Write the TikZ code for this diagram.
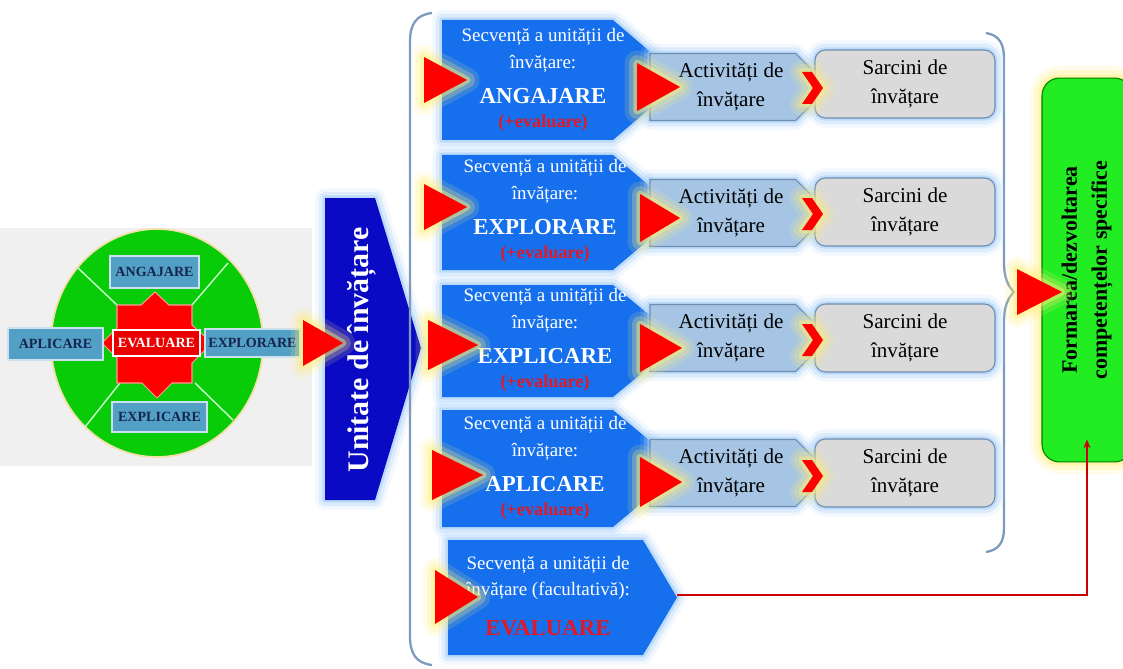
\documentclass[tikz,border=0pt]{standalone}
\usepackage{fontspec}
\setmainfont{Liberation Serif}
\usepackage{xcolor}
\usetikzlibrary{calc,shapes,shapes.misc,arrows.meta}
\definecolor{seqblue}{RGB}{22,112,238}
\definecolor{unitblue}{RGB}{10,10,196}
\definecolor{actblue}{RGB}{166,197,228}
\definecolor{actline}{RGB}{112,140,172}
\definecolor{taskgray}{RGB}{218,218,218}
\definecolor{goalgreen}{RGB}{34,236,34}
\definecolor{wheelgreen}{RGB}{8,204,8}
\definecolor{phaseblue}{RGB}{82,160,198}
\definecolor{navytext}{RGB}{22,36,78}
\definecolor{bracecol}{RGB}{124,154,190}
\definecolor{evalred}{RGB}{226,24,36}
\definecolor{glowyellow}{RGB}{255,238,120}
\definecolor{glowblue}{RGB}{168,208,250}
\tikzstyle{glowY}=[preaction={draw=glowyellow,line width=14pt,draw opacity=.15,line join=round},preaction={draw=glowyellow,line width=9pt,draw opacity=.25,line join=round},preaction={draw=glowyellow,line width=4pt,draw opacity=.45,line join=round}]
\tikzstyle{glowB}=[preaction={draw=glowblue,line width=11pt,draw opacity=.15,line join=round},preaction={draw=glowblue,line width=7pt,draw opacity=.3,line join=round},preaction={draw=glowblue,line width=3pt,draw opacity=.6,line join=round}]
\tikzstyle{phase}=[fill=phaseblue, draw=white!70!phaseblue, line width=.8pt]
\tikzstyle{phasetext}=[text=navytext, font=\fontsize{8}{10}\selectfont\bfseries, inner sep=0pt]
\tikzstyle{seqtext}=[text=white, align=center, font=\fontsize{10.8}{15.3}\selectfont, inner sep=0pt]
\tikzstyle{actbox}=[chamfered rectangle, chamfered rectangle corners={north east,south east}, chamfered rectangle xsep=.22cm, fill=actblue, draw=actline, line width=.6pt, minimum width=3.24cm, minimum height=1.34cm, align=center, font=\fontsize{12}{16.4}\selectfont, inner sep=0pt, glowB]
\tikzstyle{taskbox}=[rectangle, rounded corners=6pt, fill=taskgray, draw=actline, line width=.6pt, minimum width=3.6cm, minimum height=1.36cm, align=center, font=\fontsize{12}{16.4}\selectfont, inner sep=0pt, glowB]
\tikzstyle{brace}=[draw=bracecol, line width=1.3pt]
\tikzstyle{redline}=[draw=red!80!black, line width=1.2pt]
\newcommand{\phaseFont}{\fontsize{13}{16}\selectfont\bfseries}
\newcommand{\evalFont}{\fontsize{10.4}{13}\selectfont\bfseries\color{evalred}}
\newcommand{\seqBox}[5]{
	\fill[seqblue, glowB] (#1,#4) -- (#2,#4) -- (#3,{(#4+#5)/2}) -- (#2,#5) -- (#1,#5) -- cycle;
}
\newcommand{\redTri}[4]{
	\fill[red, glowY] (#1,{#2-#4}) -- ({#1+#3},#2) -- (#1,{#2+#4}) -- cycle;
}
\newcommand{\redChev}[2]{
	\fill[red, glowY] (#1,{#2-16}) -- ({#1+10},{#2-16}) -- ({#1+21},#2) -- ({#1+10},{#2+16}) -- (#1,{#2+16}) -- ({#1+11},#2) -- cycle;
}
\newcommand{\phaseBox}[5]{
	\draw[#2] #3 rectangle #4;
	\node[phasetext] (#1) at ($1/2*#3+1/2*#4$) {#5};
}
\begin{document}
\begin{tikzpicture}[x=0.02cm, y=-0.02cm]
	\useasboundingbox (0,0) rectangle (1123,669);
%
	\fill[black!6] (0,228) rectangle (312,466);
	\draw[draw=yellow!40!brown!40, fill=wheelgreen, line width=1pt] (157,343) ellipse [x radius=106, y radius=114];
	\draw[green!20!white, line width=.8pt] (78,268) -- (117,305) (228,263) -- (192,305) (85,427) -- (120,383) (233,420) -- (195,383);
	\fill[red, draw=red!40!white, line width=.6pt] (155,292) -- (169,305) -- (192,305) -- (192,325) -- (212,343) -- (192,363) -- (192,383) -- (172,383) -- (157,398) -- (142,383) -- (117,383) -- (117,358) -- (102,343) -- (117,328) -- (117,305) -- (141,305) -- cycle;
%
	\phaseBox{ang}{phase}{(110,256)}{(199,288)}{ANGAJARE}
	\phaseBox{expl}{phase}{(112,402)}{(207,432)}{EXPLICARE}
	\phaseBox{apl}{phase}{(8,328)}{(103,360)}{APLICARE}
	\phaseBox{explo}{phase}{(205,329)}{(300,357)}{EXPLORARE}
	\phaseBox{eval}{phase, fill=red!92!black, draw=white}{(113,330)}{(200,356)}{\color{white}EVALUARE}
%
	\fill[unitblue, glowB] (325,198) -- (375,198) -- (421,348) -- (375,500) -- (325,500) -- cycle;
	\node[text=white, rotate=90, font=\fontsize{17}{20}\selectfont\bfseries] (unit) at (362,350) {Unitate de învățare};
	\redTri{303}{343}{40}{23}
%
	\draw[brace] (432,13) .. controls (416,15) and (410,24) .. (410,42) -- (410,636) .. controls (410,654) and (416,663) .. (432,665);
	\draw[brace] (986,33) .. controls (999,35) and (1004,44) .. (1004,58) -- (1004,262) .. controls (1004,278) and (1008,286) .. (1014,292) .. controls (1008,298) and (1004,306) .. (1004,322) -- (1004,528) .. controls (1004,542) and (999,550) .. (986,552);
%
	\seqBox{442}{613}{683}{20}{140}
	\seqBox{442}{613}{681}{155}{270}
	\seqBox{442}{613}{681}{285}{397}
	\seqBox{442}{613}{683}{410}{527}
	\seqBox{448}{643}{677}{540}{655}
	\coordinate (seqE-tip) at (677,595);
%
	\node[seqtext] (seqA) at (543,80) {Secvență a unității de\\ învățare:\\[4.5pt] {\phaseFont ANGAJARE}\\[-1.7pt] {\evalFont (+evaluare)}};
	\node[seqtext] (seqB) at (545,211) {Secvență a unității de\\ învățare:\\[4.5pt] {\phaseFont EXPLORARE}\\[-1.7pt] {\evalFont (+evaluare)}};
	\node[seqtext] (seqC) at (545,340) {Secvență a unității de\\ învățare:\\[4.5pt] {\phaseFont EXPLICARE}\\[-1.7pt] {\evalFont (+evaluare)}};
	\node[seqtext] (seqD) at (545,468) {Secvență a unității de\\ învățare:\\[4.5pt] {\phaseFont APLICARE}\\[-1.7pt] {\evalFont (+evaluare)}};
	\node[seqtext] (seqE) at (548,596) {Secvență a unității de\\ învățare (facultativă):\\[7.4pt] {\phaseFont\color{evalred} EVALUARE}};
%
	\node[actbox] (actA) at (731,87) {Activități de\\ învățare};
	\node[actbox] (actB) at (731,213) {Activități de\\ învățare};
	\node[actbox] (actC) at (731,338) {Activități de\\ învățare};
	\node[actbox] (actD) at (731,473) {Activități de\\ învățare};
%
	\node[taskbox] (taskA) at (905,84) {Sarcini de\\ învățare};
	\node[taskbox] (taskB) at (905,212) {Sarcini de\\ învățare};
	\node[taskbox] (taskC) at (905,338) {Sarcini de\\ învățare};
	\node[taskbox] (taskD) at (905,473) {Sarcini de\\ învățare};
%
	\redTri{424}{80}{43}{23}
	\redTri{424}{207}{43}{23}
	\redTri{428}{345}{50}{25}
	\redTri{432}{475}{51}{25}
	\redTri{435}{597}{43}{27}
	\redTri{637}{87}{43}{24}
	\redTri{640}{218}{40}{24}
	\redTri{640}{348}{42}{24}
	\redTri{640}{482}{42}{25}
	\redChev{802}{88}
	\redChev{802}{214}
	\redChev{802}{340}
	\redChev{802}{476}
%
	\node[rectangle, rounded corners=10pt, fill=goalgreen, draw=green!50!black, line width=.6pt, glowY, rotate=90, minimum width=7.68cm, minimum height=1.8cm, align=center, font=\fontsize{12.5}{17}\selectfont\bfseries] (goal) at (1087,270) {Formarea/dezvoltarea\\ competențelor specifice};
	\redTri{1017}{292}{45}{23}
	\draw[redline, -{Stealth[length=5pt,width=4pt]}] (seqE-tip) -| ($(goal.west)+(0,-23)$);
\end{tikzpicture}
\end{document}
